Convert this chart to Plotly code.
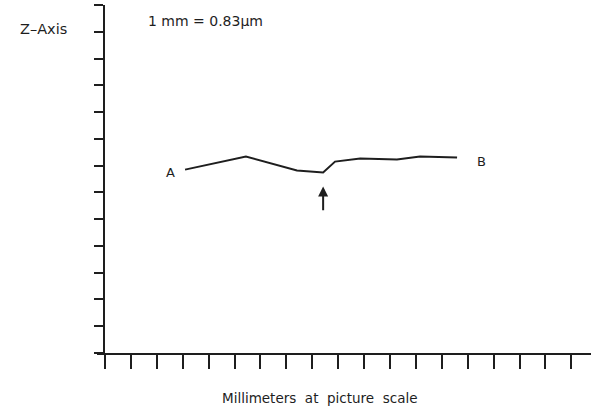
import plotly.graph_objects as go

# Profile trace data (mm at picture scale, Z units)
profile_x = [3.09, 5.44, 7.41, 8.42, 8.88, 9.85, 11.27, 12.16, 13.59]
profile_y = [6.85, 7.34, 6.82, 6.74, 7.15, 7.27, 7.23, 7.34, 7.30]
x_ticks = list(range(0, 19))
y_ticks = list(range(0, 14))
arrow_x = 8.42
label_a = ("A", 2.51, 6.74)
label_b = ("B", 14.52, 7.15)

INK = "#1e1e1e"
FONT = "DejaVu Sans, Liberation Sans, Arial, sans-serif"

fig = go.Figure()
fig.add_trace(go.Scatter(x=profile_x, y=profile_y, mode="lines",
                         line=dict(color=INK, width=2), hoverinfo="skip",
                         showlegend=False))

W, H = 591, 411
ml, mr, mt, mb = 97, 0, 5, 58
plot_w = W - ml - mr

fig.update_layout(
    width=W, height=H,
    margin=dict(l=ml, r=mr, t=mt, b=mb),
    paper_bgcolor="white", plot_bgcolor="white",
    font=dict(family=FONT, color=INK, size=12),
    xaxis=dict(range=[-0.309, 18.76], tickvals=x_ticks, showticklabels=False,
               ticks="outside", ticklen=14, tickwidth=1.5, tickcolor=INK,
               showline=True, linecolor=INK, linewidth=2,
               showgrid=False, zeroline=False),
    yaxis=dict(range=[0, 13], tickvals=y_ticks, showticklabels=False,
               ticks="outside", ticklen=9, tickwidth=1.5, tickcolor=INK,
               showline=True, linecolor=INK, linewidth=2,
               showgrid=False, zeroline=False,
               anchor="free", position=(104 - ml) / plot_w),
)

# data-referenced labels
for txt, x, y, size in [(label_a[0], label_a[1], label_a[2], 13),
                        (label_b[0], label_b[1], label_b[2], 13),
                        ("1 mm = 0.83\u00b5m", 3.86, 12.4, 14)]:
    fig.add_annotation(xref="x", yref="y", x=x, y=y, text=txt, showarrow=False,
                       xanchor="center", yanchor="middle", font=dict(size=size))

# margin labels (paper-referenced)
fig.add_annotation(xref="paper", yref="paper", x=-0.109, y=0.931,
                   xanchor="center", yanchor="middle",
                   text="Z\u2013Axis", showarrow=False, font=dict(size=14.5))
fig.add_annotation(xref="paper", yref="paper", x=0.451, y=-0.129,
                   xanchor="center", yanchor="middle",
                   text="Millimeters  at  picture  scale", showarrow=False,
                   font=dict(size=13.5))

fig.add_annotation(x=arrow_x, y=6.22, ax=arrow_x, ay=5.28, xref="x", yref="y",
                   axref="x", ayref="y", showarrow=True, text="",
                   arrowhead=2, arrowsize=1, arrowwidth=2, arrowcolor=INK)

fig.write_html("out.html")
